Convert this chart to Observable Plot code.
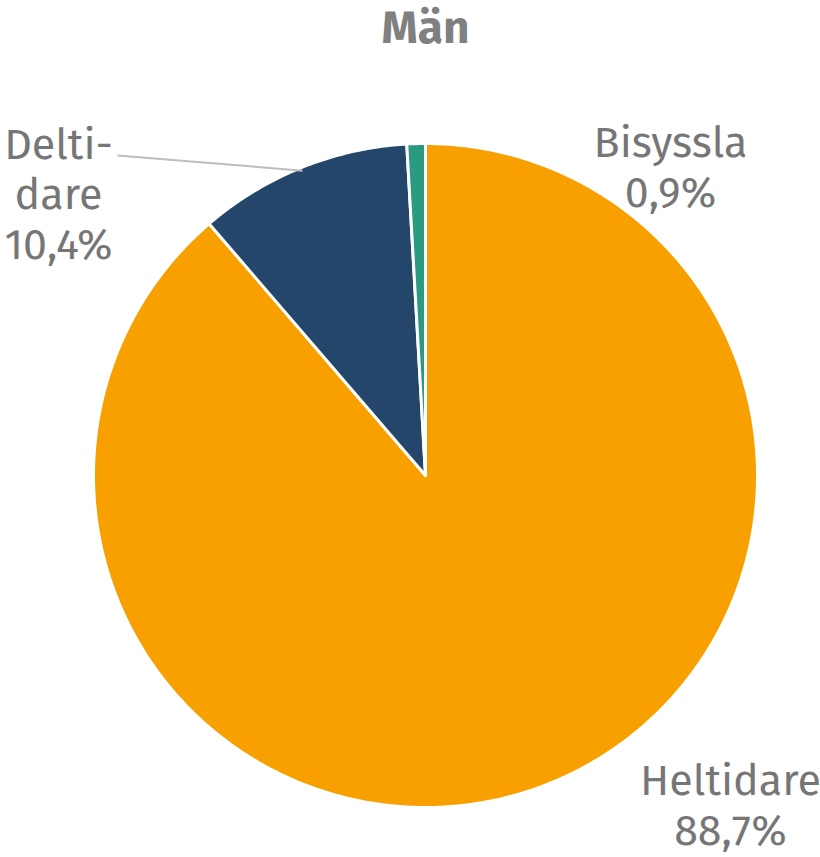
<!DOCTYPE html>
<html>
<head>
<meta charset="utf-8">
<script src="https://cdn.jsdelivr.net/npm/d3@7"></script>
<script src="https://cdn.jsdelivr.net/npm/@observablehq/plot@0.6"></script>
<style>
  html, body { margin: 0; padding: 0; background: #fff; }
  #chart svg { display: block; }
</style>
</head>
<body>
<div id="chart"></div>
<script>
const title = "Män";
const categories = ["Heltidare", "Deltidare", "Bisyssla"];
const values = [88.7, 10.4, 0.9];
const valueLabels = ["88,7%", "10,4%", "0,9%"];
const nameLabels = ["Heltidare", "Delti-\ndare", "Bisyssla"];
const colors = ["#F7A000", "#24466B", "#2A9A80"];

// layout
const W = 820, H = 857;
const cx = 425, cy = 475, R = 332;
const FONT = "'Fira Sans', 'Noto Sans', sans-serif";
const labelPos = { // pixel anchors for label blocks (centre of block)
  "Heltidare": [730, 803],
  "Deltidare": [58, 192],
  "Bisyssla": [670, 165]
};
const lineH = 50;
const labelSize = 43;

const table = categories.map((c, i) => ({ name: c, value: values[i], color: colors[i], label: nameLabels[i] + "\n" + valueLabels[i] }));
const arcs = d3.pie().sort(null).value(d => d.value)(table);

const polys = [];
arcs.forEach(a => {
  const n = Math.max(4, Math.ceil((a.endAngle - a.startAngle) / 0.01));
  polys.push({ name: a.data.name, x: 0, y: 0 });
  for (let k = 0; k <= n; k++) {
    const t = a.startAngle + (a.endAngle - a.startAngle) * k / n;
    polys.push({ name: a.data.name, x: R * Math.sin(t), y: -R * Math.cos(t) });
  }
  polys.push({ name: a.data.name, x: 0, y: 0 });
});

const labels = table.map(d => {
  const [px, py] = labelPos[d.name];
  return { name: d.name, text: d.label, x: px - cx, y: py - cy };
});

// leader line for Deltidare
const del = arcs.find(a => a.data.name === "Deltidare");
const mid = (del.startAngle + del.endAngle) / 2;
const leader = [{ x1: 117 - cx, y1: 155 - cy, x2: R * 0.99 * Math.sin(mid), y2: -R * 0.99 * Math.cos(mid) }];

const plot = Plot.plot({
  width: W, height: H,
  margin: 0,
  style: { fontFamily: FONT, background: "#fff" },
  x: { domain: [-cx, W - cx], range: [0, W], axis: null },
  y: { domain: [-cy, H - cy], range: [0, H], axis: null },
  color: { domain: categories, range: colors },
  marks: [
    Plot.line(polys, { x: "x", y: "y", z: "name", fill: "name", stroke: "#fff", strokeWidth: 3, strokeLinejoin: "round" }),
    Plot.link(leader, { x1: "x1", y1: "y1", x2: "x2", y2: "y2", stroke: "#BDBDBD", strokeWidth: 2 }),
    Plot.text(labels, { x: "x", y: "y", text: "text", fill: "#767676", fontSize: labelSize, lineHeight: lineH / labelSize, textAnchor: "middle", lineAnchor: "middle" }),
    Plot.text([title], { x: 0, y: 28 - cy, text: d => d, fill: "#808080", fontSize: 46, fontWeight: "bold", textAnchor: "middle", lineAnchor: "middle" })
  ]
});
document.getElementById("chart").appendChild(plot);
</script>
</body>
</html>
